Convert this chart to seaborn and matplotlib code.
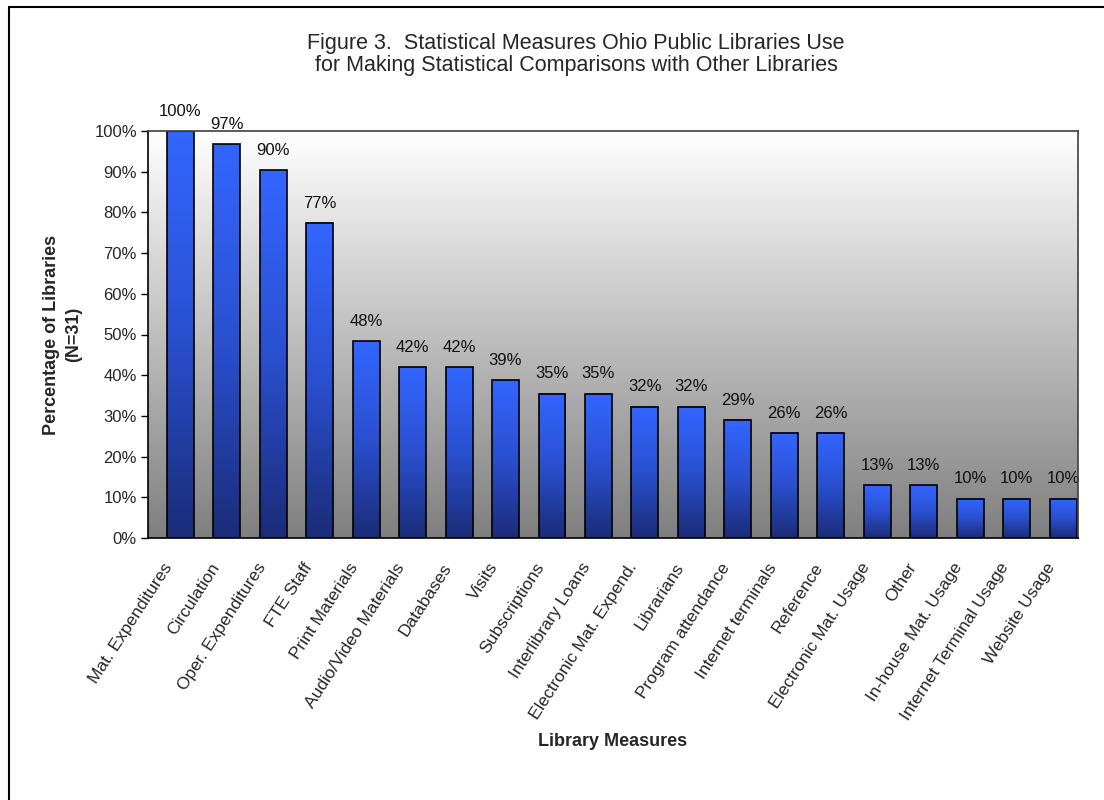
import numpy as np
import pandas as pd
import matplotlib
matplotlib.use("Agg")
import matplotlib.pyplot as plt
from matplotlib.colors import LinearSegmentedColormap
from matplotlib.lines import Line2D
from matplotlib.transforms import ScaledTranslation
import seaborn as sns

measures = ["Mat. Expenditures", "Circulation", "Oper. Expenditures", "FTE Staff",
            "Print Materials", "Audio/Video Materials", "Databases", "Visits",
            "Subscriptions", "Interlibrary Loans", "Electronic Mat. Expend.",
            "Librarians", "Program attendance", "Internet terminals", "Reference",
            "Electronic Mat. Usage", "Other", "In-house Mat. Usage",
            "Internet Terminal Usage", "Website Usage"]
percent = [100.0, 96.8, 90.3, 77.4, 48.4, 41.9, 41.9, 38.7, 35.5, 35.5,
           32.3, 32.3, 29.0, 25.8, 25.8, 12.9, 12.9, 9.7, 9.7, 9.7]
labels = ["100%", "97%", "90%", "77%", "48%", "42%", "42%", "39%", "35%", "35%",
          "32%", "32%", "29%", "26%", "26%", "13%", "13%", "10%", "10%", "10%"]
yticks = [0, 10, 20, 30, 40, 50, 60, 70, 80, 90, 100]

sns.set_theme(style="white")
plt.rcParams['font.family'] = ['Liberation Sans', 'DejaVu Sans']

df = pd.DataFrame({"measure": measures, "pct": percent})

fig = plt.figure(figsize=(11.04, 8), dpi=100)
ax = fig.add_axes([148/1104, 1-538/800, (1078-148)/1104, (538-131)/800])

sns.barplot(data=df, x="measure", y="pct", ax=ax, width=0.58,
            color="#3366FF", edgecolor="black", linewidth=1.2, zorder=3)

XLIM = (-0.694, 19.32)

# background gradient (white top -> gray bottom)
bg = np.linspace(0, 1, 256).reshape(-1, 1)
bg_cmap = LinearSegmentedColormap.from_list("bg", ["#ffffff", "#7f7f7f"])
ax.imshow(bg, extent=[0, 1, 0, 1], transform=ax.transAxes, cmap=bg_cmap,
          aspect="auto", zorder=0, origin="upper")

# bar gradient
bar_cmap = LinearSegmentedColormap.from_list("bar", ["#3366FF", "#2a50d0", "#1b2c78"])
grad = np.linspace(0, 1, 256).reshape(-1, 1)
for p in ax.patches:
    x0 = p.get_x(); w = p.get_width(); h = p.get_height()
    ax.imshow(grad, extent=[x0, x0 + w, 0, h], cmap=bar_cmap, aspect="auto",
              zorder=2.5, origin="upper")
    p.set_facecolor("none")
ax.set_xlim(*XLIM)
ax.set_ylim(0, 100)

for i, (v, lab) in enumerate(zip(percent, labels)):
    ax.annotate(lab, (i, v), xytext=(0, 11), textcoords="offset points",
                ha="center", va="baseline", fontsize=12, color="#111111",
                annotation_clip=False)

ax.set_yticks(yticks)
ax.set_yticklabels([f"{t}%" for t in yticks], fontsize=12)
ax.tick_params(axis="y", which="both", left=True, length=5, width=1, color="black", pad=3)
ax.tick_params(axis="x", bottom=False, pad=13)
ax.set_xticks(range(len(measures)))
ax.set_xticklabels(measures, rotation=57, ha="right", va="center",
                   rotation_mode="anchor", fontsize=12.5)
offset = ScaledTranslation(-11/100, 0, fig.dpi_scale_trans)
for lbl in ax.get_xticklabels():
    lbl.set_transform(lbl.get_transform() + offset)

for s in ["left", "bottom"]:
    ax.spines[s].set_color("black")
    ax.spines[s].set_linewidth(1.2)
for s in ["top", "right"]:
    ax.spines[s].set_color("#404040")
    ax.spines[s].set_linewidth(1.2)
for s in ax.spines.values():
    s.set_zorder(5)

ax.set_xlabel("Library Measures", fontsize=13, fontweight="bold")
ax.xaxis.set_label_coords(0.5, -(733 - 538) / (538 - 131))
ax.set_ylabel("Percentage of Libraries\n(N=31)", fontsize=13, fontweight="bold",
              linespacing=1.4)
ax.yaxis.set_label_coords(-(148 - 82) / (1078 - 148), 0.5)

fig.text(576/1104, 1 - 43/800, "Figure 3.  Statistical Measures Ohio Public Libraries Use",
         ha="center", va="center", fontsize=15.5)
fig.text(576/1104, 1 - 65/800, "for Making Statistical Comparisons with Other Libraries",
         ha="center", va="center", fontsize=15.5)

fig.add_artist(Line2D([9/1104, 9/1104], [0, 1 - 7/800], transform=fig.transFigure,
                      color="black", linewidth=1.5))
fig.add_artist(Line2D([9/1104, 1], [1 - 7/800, 1 - 7/800], transform=fig.transFigure,
                      color="black", linewidth=1.5))

fig.savefig("out.png", dpi=100, facecolor="white")
